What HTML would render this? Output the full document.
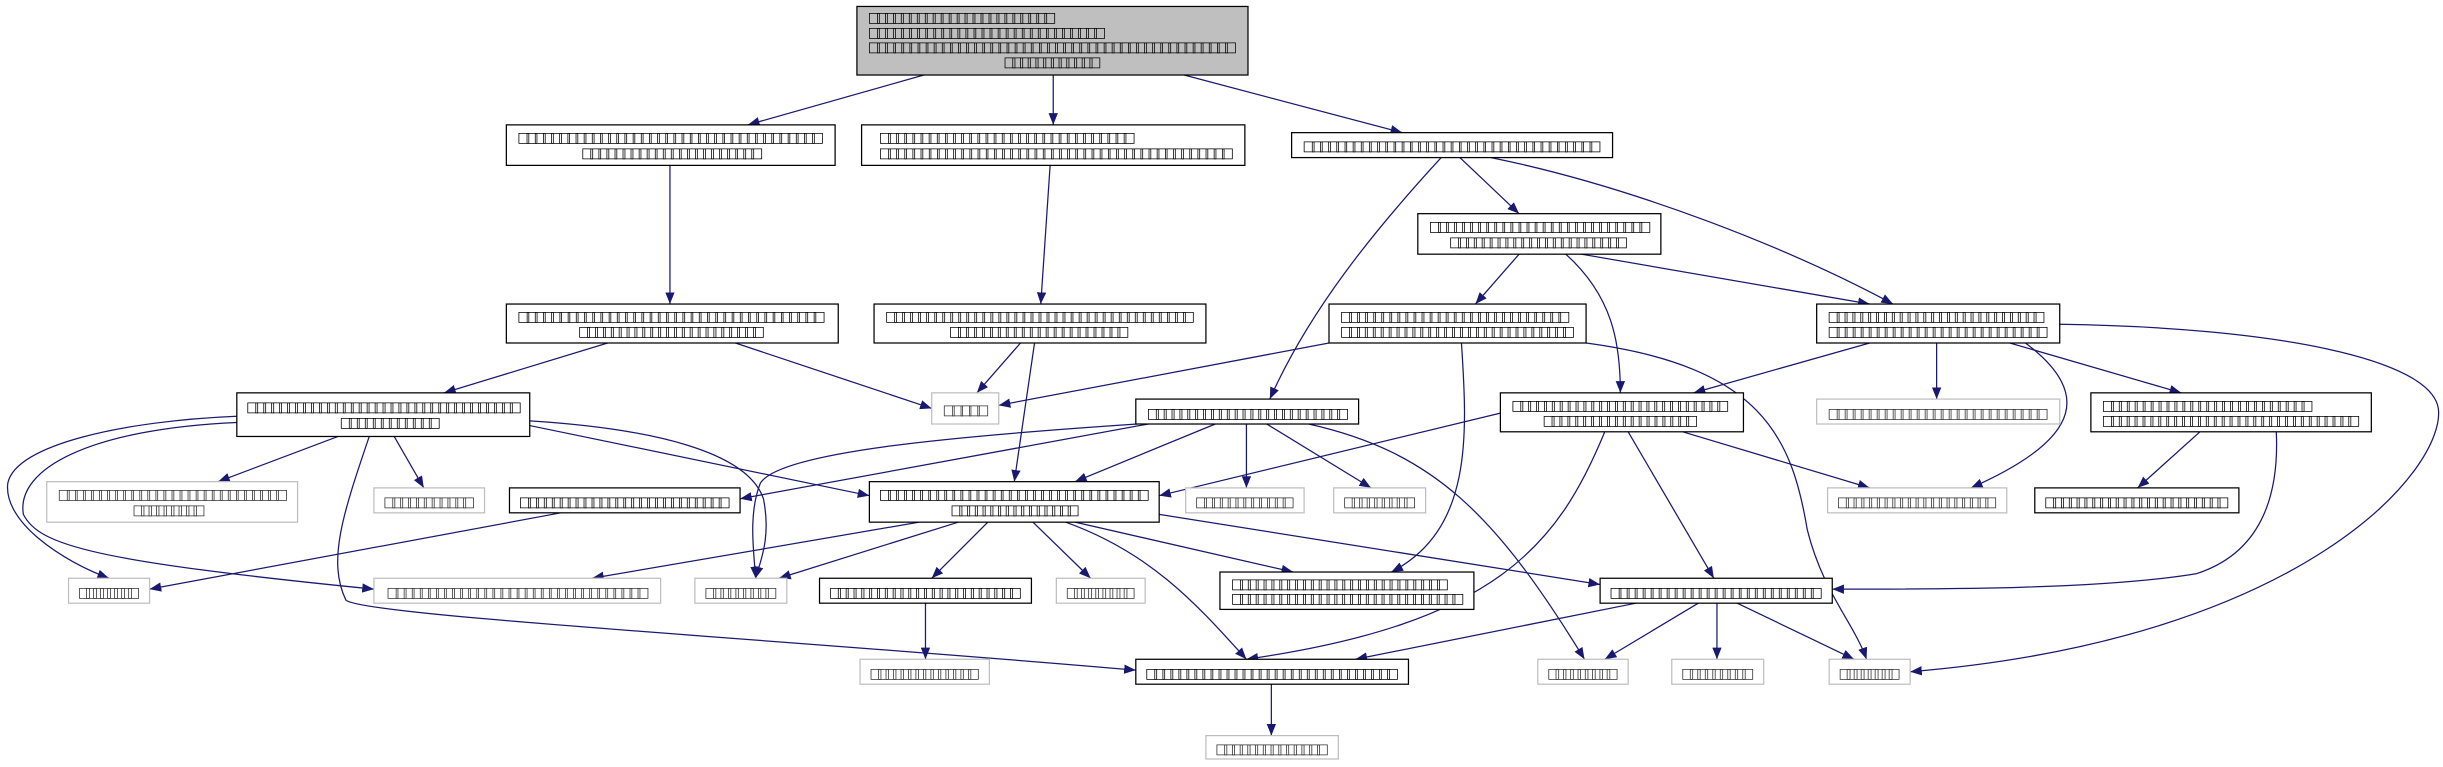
<!DOCTYPE html>
<html><head><meta charset="utf-8"><style>
html,body{margin:0;padding:0;background:#fff;}
svg{display:block;}
text{font-family:"DejaVu Sans","Liberation Sans",sans-serif;font-size:9px;fill:#000;}
.g text, text.g{fill:#333;}
</style></head><body>
<svg width="2443" height="767" viewBox="0 0 1568 492" xmlns="http://www.w3.org/2000/svg">
<defs>
<marker id="a" markerUnits="userSpaceOnUse" markerWidth="8" markerHeight="6" refX="7.5" refY="3" orient="auto">
<path d="M0,0 L7.5,3 L0,6 Z" fill="#191970"/></marker>
</defs>
<g fill="none" stroke="#191970" stroke-width="0.8" marker-end="url(#a)">
<path d="M593,48 L480,80"/>
<path d="M676,48 L676,80"/>
<path d="M760,48 L900,85"/>
<path d="M430,106 L430,195"/>
<path d="M674,106 L668,195"/>
<path d="M937,101 L975,137"/>
<path d="M957,101 C1050,120 1150,160 1215,195"/>
<path d="M925,101 C880,150 840,200 815,256"/>
<path d="M390,220 L285,252"/>
<path d="M472,220 L598,262"/>
<path d="M655,220 L627,252"/>
<path d="M664,220 L651,309"/>
<path d="M975,163 L947,195"/>
<path d="M1015,163 L1200,195"/>
<path d="M1005,163 C1035,190 1040,220 1040,252"/>
<path d="M853,220 L641,260"/>
<path d="M938,220 C942,280 945,340 893,367"/>
<path d="M1018,220 C1130,235 1150,280 1160,340 C1170,380 1190,400 1198,423"/>
<path d="M1200,220 L1087,252"/>
<path d="M1243,220 L1243,256"/>
<path d="M1290,220 L1400,252"/>
<path d="M1300,220 C1340,250 1340,280 1265,313"/>
<path d="M1322,208 C1460,210 1560,230 1565,262 C1570,300 1480,410 1226,431"/>
<path d="M217,280 L140,309"/>
<path d="M253,280 L272,313"/>
<path d="M340,273 L558,318"/>
<path d="M152,267 C80,270 10,285 5,310 C2,335 40,360 70,371"/>
<path d="M152,271 C60,275 10,300 15,330 C25,350 60,360 240,378"/>
<path d="M340,270 C420,275 480,290 490,320 C495,345 488,360 485,371"/>
<path d="M237,280 C220,330 210,360 222,385 C232,395 500,410 729,430"/>
<path d="M737,272 L475,320"/>
<path d="M780,272 L690,309"/>
<path d="M800,272 L800,313"/>
<path d="M813,272 L880,313"/>
<path d="M730,272 C610,280 500,290 488,310 C480,330 484,355 485,371"/>
<path d="M840,272 C920,290 960,330 1017,423"/>
<path d="M963,265 L744,318"/>
<path d="M1080,277 L1200,313"/>
<path d="M1045,277 L1100,371"/>
<path d="M1030,277 C1000,350 960,400 800,423"/>
<path d="M1412,277 L1372,313"/>
<path d="M1461,277 C1463,320 1450,355 1410,368 C1350,378 1250,378 1176,378"/>
<path d="M360,329 L96,378"/>
<path d="M590,335 L380,371"/>
<path d="M615,335 L500,371"/>
<path d="M634,335 L598,371"/>
<path d="M663,335 L700,371"/>
<path d="M690,335 L830,367"/>
<path d="M744,330 L1027,375"/>
<path d="M684,335 C740,355 770,390 800,423"/>
<path d="M594,387 L594,423"/>
<path d="M1050,387 L870,423"/>
<path d="M1090,387 L1030,423"/>
<path d="M1102,387 L1102,423"/>
<path d="M1115,387 L1190,423"/>
<path d="M816,439 L816,472"/>
</g>
<g stroke="#000" stroke-width="0.8" fill="#fff">
<rect x="550" y="4" width="251" height="44" fill="#bfbfbf"/>
<rect x="325" y="80" width="211" height="26"/>
<rect x="553" y="80" width="246" height="26"/>
<rect x="829" y="85" width="206" height="16"/>
<rect x="325" y="195" width="213" height="25"/>
<rect x="561" y="195" width="213" height="25"/>
<rect x="910" y="137" width="156" height="26"/>
<rect x="853" y="195" width="165" height="25"/>
<rect x="1166" y="195" width="156" height="25"/>
<rect x="152" y="252" width="188" height="28"/>
<rect x="729" y="256" width="143" height="16"/>
<rect x="963" y="252" width="156" height="25"/>
<rect x="1342" y="252" width="180" height="25"/>
<rect x="327" y="313" width="148" height="16"/>
<rect x="558" y="309" width="186" height="26"/>
<rect x="1306" y="313" width="131" height="16"/>
<rect x="526" y="371" width="136" height="16"/>
<rect x="783" y="367" width="163" height="24"/>
<rect x="1027" y="371" width="149" height="16"/>
<rect x="729" y="423" width="175" height="16"/>
</g>
<g stroke="#bfbfbf" stroke-width="0.8" fill="#fff">
<rect x="598" y="252" width="43" height="20"/>
<rect x="1166" y="256" width="156" height="16"/>
<rect x="30" y="309" width="161" height="26"/>
<rect x="240" y="313" width="71" height="16"/>
<rect x="761" y="313" width="76" height="16"/>
<rect x="856" y="313" width="59" height="16"/>
<rect x="1173" y="313" width="115" height="16"/>
<rect x="44" y="371" width="52" height="16"/>
<rect x="240" y="371" width="184" height="16"/>
<rect x="446" y="371" width="59" height="16"/>
<rect x="678" y="371" width="57" height="16"/>
<rect x="552" y="423" width="83" height="16"/>
<rect x="987" y="423" width="58" height="16"/>
<rect x="1073" y="423" width="59" height="16"/>
<rect x="1174" y="423" width="52" height="16"/>
<rect x="774" y="472" width="85" height="15"/>
</g>
<g lengthAdjust="spacing">
<text x="557" y="14" textLength="121">□□□□□□□□□□□□□□□□□□□□□□□</text>
<text x="557" y="23.5" textLength="153">□□□□□□□□□□□□□□□□□□□□□□□□□□□□□</text>
<text x="557" y="33" textLength="237">□□□□□□□□□□□□□□□□□□□□□□□□□□□□□□□□□□□□□□□□□□□□□</text>
<text x="644" y="42.5" textLength="63">□□□□□□□□□□□□</text>
<text x="332" y="91" textLength="197">□□□□□□□□□□□□□□□□□□□□□□□□□□□□□□□□□□□□□</text>
<text x="373" y="101" textLength="117">□□□□□□□□□□□□□□□□□□□□□□</text>
<text x="564" y="91" textLength="165">□□□□□□□□□□□□□□□□□□□□□□□□□□□□□□□</text>
<text x="564" y="101" textLength="228">□□□□□□□□□□□□□□□□□□□□□□□□□□□□□□□□□□□□□□□□□□□</text>
<text x="836" y="96.5" textLength="192">□□□□□□□□□□□□□□□□□□□□□□□□□□□□□□□□□□□□</text>
<text x="332" y="206" textLength="198">□□□□□□□□□□□□□□□□□□□□□□□□□□□□□□□□□□□□□</text>
<text x="371" y="215.5" textLength="120">□□□□□□□□□□□□□□□□□□□□□□□</text>
<text x="568" y="206" textLength="199">□□□□□□□□□□□□□□□□□□□□□□□□□□□□□□□□□□□□□□</text>
<text x="609" y="215.5" textLength="116">□□□□□□□□□□□□□□□□□□□□□□</text>
<text x="917" y="148" textLength="143">□□□□□□□□□□□□□□□□□□□□□□□□□□□</text>
<text x="930" y="158" textLength="115">□□□□□□□□□□□□□□□□□□□□□□</text>
<text x="860" y="206" textLength="148">□□□□□□□□□□□□□□□□□□□□□□□□□□□□</text>
<text x="860" y="215.5" textLength="151">□□□□□□□□□□□□□□□□□□□□□□□□□□□□□</text>
<text x="1173" y="206" textLength="140">□□□□□□□□□□□□□□□□□□□□□□□□□□□</text>
<text x="1173" y="215.5" textLength="142">□□□□□□□□□□□□□□□□□□□□□□□□□□□</text>
<text x="158" y="264" textLength="177">□□□□□□□□□□□□□□□□□□□□□□□□□□□□□□□□□□</text>
<text x="218" y="274" textLength="65">□□□□□□□□□□□□</text>
<text x="736" y="268" textLength="130">□□□□□□□□□□□□□□□□□□□□□□□□□</text>
<text x="970" y="263" textLength="140">□□□□□□□□□□□□□□□□□□□□□□□□□□□</text>
<text x="990" y="272.5" textLength="100">□□□□□□□□□□□□□□□□□□□</text>
<text x="1349" y="263" textLength="136">□□□□□□□□□□□□□□□□□□□□□□□□□□</text>
<text x="1349" y="272.5" textLength="166">□□□□□□□□□□□□□□□□□□□□□□□□□□□□□□□□</text>
<text x="333" y="325" textLength="136">□□□□□□□□□□□□□□□□□□□□□□□□□□</text>
<text x="564" y="320" textLength="174">□□□□□□□□□□□□□□□□□□□□□□□□□□□□□□□□□</text>
<text x="610" y="330" textLength="83">□□□□□□□□□□□□□□□□</text>
<text x="1312" y="325" textLength="119">□□□□□□□□□□□□□□□□□□□□□□□</text>
<text x="532" y="383" textLength="124">□□□□□□□□□□□□□□□□□□□□□□□□</text>
<text x="790" y="377.5" textLength="140">□□□□□□□□□□□□□□□□□□□□□□□□□□□</text>
<text x="790" y="387" textLength="150">□□□□□□□□□□□□□□□□□□□□□□□□□□□□□</text>
<text x="1033" y="383" textLength="137">□□□□□□□□□□□□□□□□□□□□□□□□□□</text>
<text x="735" y="435" textLength="163">□□□□□□□□□□□□□□□□□□□□□□□□□□□□□□□</text>
</g>
<g lengthAdjust="spacing" class="g">
<text x="605" y="266" textLength="30">□□□□□</text>
<text x="1173" y="268" textLength="142">□□□□□□□□□□□□□□□□□□□□□□□□□□□</text>
<text x="37" y="320" textLength="148">□□□□□□□□□□□□□□□□□□□□□□□□□□□□</text>
<text x="85" y="330" textLength="47">□□□□□□□□□</text>
<text x="246" y="325" textLength="59">□□□□□□□□□□□</text>
<text x="767" y="325" textLength="64">□□□□□□□□□□□□</text>
<text x="862" y="325" textLength="47">□□□□□□□□□</text>
<text x="1179" y="325" textLength="103">□□□□□□□□□□□□□□□□□□□□</text>
<text x="50" y="383" textLength="40">□□□□□□□□</text>
<text x="248" y="383" textLength="169">□□□□□□□□□□□□□□□□□□□□□□□□□□□□□□□□</text>
<text x="452" y="383" textLength="47">□□□□□□□□□</text>
<text x="684" y="383" textLength="45">□□□□□□□□□</text>
<text x="558" y="435" textLength="71">□□□□□□□□□□□□□□</text>
<text x="993" y="435" textLength="46">□□□□□□□□□</text>
<text x="1079" y="435" textLength="47">□□□□□□□□□</text>
<text x="1180" y="435" textLength="40">□□□□□□□□</text>
<text x="780" y="483.5" textLength="73">□□□□□□□□□□□□□□</text>
</g>
</svg>
</body></html>
